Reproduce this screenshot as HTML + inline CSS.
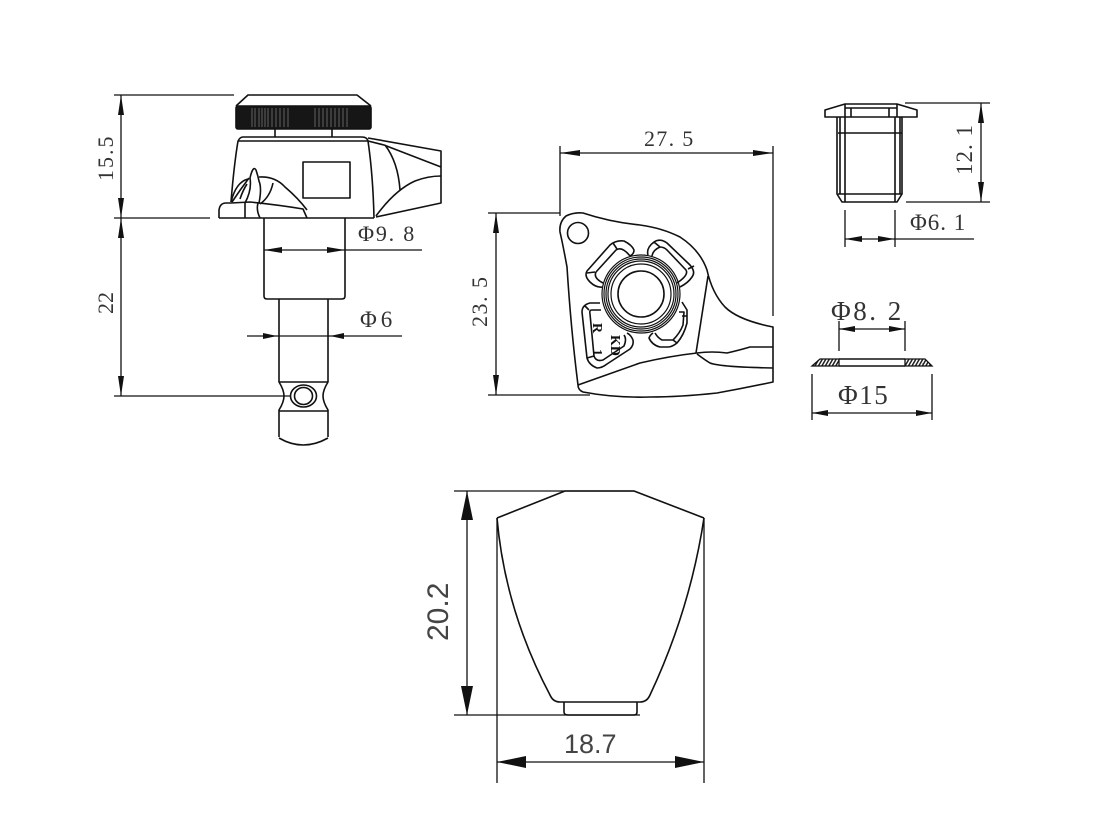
<!DOCTYPE html>
<html><head><meta charset="utf-8"><style>
html,body{margin:0;padding:0;background:#fff}
svg{display:block}
.s{fill:none;stroke:#111;stroke-width:1.6;stroke-linejoin:round}
.d{fill:none;stroke:#111;stroke-width:1.3}
.a{fill:#111;stroke:none}
text{font-family:"Liberation Serif",serif;font-size:22px;fill:#333}
</style></head><body>
<svg width="1106" height="840" viewBox="0 0 1106 840" xmlns="http://www.w3.org/2000/svg">
<defs>
<pattern id="h" width="3" height="3" patternUnits="userSpaceOnUse" patternTransform="rotate(30)">
<rect width="3" height="3" fill="#fff"/><rect width="1.500" height="3" fill="#222"/>
</pattern>
</defs>
<rect width="1106" height="840" fill="#fff"/>

<!-- LEFT VIEW -->
<g class="s">
<path d="M236 106L248 95H357L371 106"/>
<rect x="236" y="106" width="135" height="23" rx="2" fill="#161616" stroke="#111"/>
<path d="M252 108V127M255 108V127M259 108V127M262 108V127M265 108V127M268 108V127M272 108V127M276 108V127M280 108V127M284 108V127M288 108V127M315 108V127M319 108V127M323 108V127M327 108V127M331 108V127M335 108V127M339 108V127M343 108V127M347 108V127" stroke="#777" stroke-width="0.8"/>
<path d="M275 129V137M332 129V137"/>
<path d="M238 141Q240 137 243 137H362Q367 137 368 141"/>
<path d="M238 141H368"/>
<path d="M238 141Q234 165 231 202"/>
<path d="M368 141Q373 175 374 218"/>
<rect x="303" y="162" width="47" height="36"/>
<path d="M219 218V210Q220 203 226 203H231L250 202Q280 205 303 209L307 218"/>
<path d="M219 218H374"/>
<path d="M245 203V218M258 203Q256 210 260 218"/>
<path d="M231 202Q236 182 248 179M232 202Q240 190 249 178M240 199Q243 190 247 184"/>
<path d="M245 203Q252 190 250 178Q253 165 256 170Q258 176 259 181Q262 188 259 203"/>
<path d="M259 177Q275 176 285 187Q298 198 307 210M260 204Q270 197 273 183"/>
<path d="M368 138L441 151V203L376 217"/>
<path d="M368 141L384 145L441 167M385 145Q398 162 400 190"/>
<path d="M376 216Q395 190 415 181Q428 176 441 176"/>
<path d="M264 218V296Q264 299 267 299H342Q345 299 345 296V218"/>
<path d="M279 299V382Q284 390 284 396Q284 402 279 410V437M328 299V382Q323 390 323 396Q323 402 328 410V437"/>
<path d="M279 382H328M279 411H328"/>
<path d="M279 438Q303 452 328 438"/>
<ellipse cx="303.500" cy="396" rx="13" ry="11"/>
<ellipse cx="303.500" cy="396" rx="9" ry="8.500"/>
</g>
<g class="d">
<path d="M114 95H234M114 218H210M114 396H290"/>
<path d="M121 95V218M121 218V396"/>
<path d="M264 250H422"/>
<path d="M247 336H402"/>
</g>
<g class="a">
<path d="M121 95l-3 20h6zM121 218l-3-20h6zM121 218l-3 20h6zM121 396l-3-20h6z"/>
<path d="M264 250l18-3v6zM345 250l-18-3v6z"/>
<path d="M277 336l-14-3v6zM330 336l14-3v6z"/>
</g>
<text transform="translate(113,181) rotate(-90)" letter-spacing="2">15.5</text>
<text transform="translate(113,314) rotate(-90)">22</text>
<text x="358" y="241" letter-spacing="1.800">Φ9. 8</text>
<text x="360" y="327" style="font-size:23px" letter-spacing="4">Φ6</text>

<!-- MIDDLE VIEW -->
<g class="s">
<path d="M578 385Q571 330 567 267Q563 245 560 232Q559 222 566 216Q574 212 583 213Q610 222 640 225Q662 228 680 237Q700 250 707 270Q712 293 725 307Q738 320 773 327V382Q745 388 717 393Q680 397 650 397Q615 398 583 392Q578 390 578 385Z"/>
<circle cx="578" cy="233" r="10.500"/>
<g stroke-width="1.200">
<circle cx="641" cy="294" r="39"/><circle cx="641" cy="294" r="37"/><circle cx="641" cy="294" r="35"/><circle cx="641" cy="294" r="33"/><circle cx="641" cy="294" r="30"/>
</g>
<circle cx="641" cy="294" r="23"/>
<path d="M603 287Q596 288 590 282Q584 276 587 271L610 245Q616 240 624 241Q632 245 634 250Q634 254 630 256"/>
<path d="M596 272Q593 278 603 283M596 272L616 250Q622 246 630 256M613 243L617 249M587 273L595 272"/>
<path d="M648 255Q646 248 654 242Q660 238 667 243L690 265Q696 272 692 277Q688 283 680 287M652 256Q653 250 660 247Q664 247 667 250L686 270Q689 275 677 283M688 269L694 266M654 242L660 247"/>
<path d="M600 303H590Q582 305 582 312L587 358Q589 365 597 368Q602 368 607 364L630 349Q634 345 633 340Q631 335 627 333"/>
<path d="M601 310H592Q589 310 590 314L594 356Q596 362 603 360L624 346Q627 339 624 335M587 358L594 356M589 310L585 306"/>
<path d="M682 302L687 310V323Q684 335 677 343Q672 347 668 347H660Q652 345 649 338Q650 335 653 333"/>
<path d="M679 312H684L683 325Q680 333 673 340H662Q658 338 655 333M677 343L673 340M687 316L682 316"/>
<path d="M578 385L640 363Q670 356 697 353Q712 351 727 353Q740 350 750 347H773"/>
<path d="M697 354Q705 360 710 363Q720 367 773 368"/>
<path d="M696 353L708 276"/>
</g>
<g class="d">
<path d="M560 146V216M773 146V316"/>
<path d="M560 153H773"/>
<path d="M488 213H560M488 395H590"/>
<path d="M496 213V395"/>
</g>
<g class="a">
<path d="M560 153l20-3v6zM773 153l-20-3v6zM496 213l-3 20h6zM496 395l-3-20h6z"/>
</g>
<text x="644" y="146" letter-spacing="1.300">27. 5</text>
<text transform="translate(487,327) rotate(-90)" letter-spacing="1.500">23. 5</text>
<text transform="translate(593,323) rotate(90)" style="font-size:14px;font-weight:bold;fill:#111">R</text>
<text transform="translate(611,335) rotate(90)" style="font-size:14px;font-weight:bold;fill:#111">KD</text>
<text transform="translate(593,349) rotate(90)" style="font-size:14px;font-weight:bold;fill:#111">1</text>

<!-- TOP RIGHT -->
<g class="s">
<path d="M825 117V110L845 104H897L917 110V117Z"/>
<path d="M845 104V117M897 104V117M851 108V117M889 108V117M845 108H897"/>
<path d="M837 117V194L842 202H897L902 194V117"/>
<path d="M840 117V194M900 117V194"/>
<path d="M845 117V202M895 117V202"/>
<path d="M838 133H902M838 194H902"/>
</g>
<g class="d">
<path d="M905 103H990M906 202H990"/>
<path d="M981 103V202"/>
<path d="M845 210V247M895 210V247"/>
<path d="M845 239H974"/>
</g>
<g class="a">
<path d="M981 103l-3 20h6zM981 202l-3-20h6zM845 239l17-3v6zM895 239l-17-3v6z"/>
</g>
<text transform="translate(972,175) rotate(-90)" style="font-size:23px" letter-spacing="1">12. 1</text>
<text x="910" y="230" style="font-size:23px" letter-spacing="1">Φ6. 1</text>

<!-- WASHER -->
<path d="M812 366L820 359H839V366ZM905 359H925L932 366H905Z" fill="url(#h)" stroke="#111" stroke-width="1.300"/>
<path class="s" d="M839 359H905M839 366H905"/>
<g class="d">
<path d="M839 321V351M905 321V351"/>
<path d="M839 329H905"/>
<path d="M812 374V420M932 374V420"/>
<path d="M812 413H932"/>
</g>
<g class="a">
<path d="M839 329l16-3v6zM905 329l-16-3v6zM812 413l16-3v6zM932 413l-16-3v6z"/>
</g>
<text x="831" y="320" style="font-size:27px" letter-spacing="2.500">Φ8. 2</text>
<text x="838" y="404" style="font-size:27px" letter-spacing="1.500">Φ15</text>

<!-- BOTTOM -->
<g class="s">
<path d="M497 518L565 491H634L704 518"/>
<path d="M497 518Q505 610 550 695Q553 702 560 702H640Q647 702 650 695Q690 610 704 518"/>
<path d="M564 702V712Q564 715 568 715H634Q637 715 637 712V702"/>
</g>
<g class="d">
<path d="M454 491H634M454 715H640"/>
<path d="M467 491V715"/>
<path d="M497 518V783M704 518V783"/>
<path d="M497 762H704"/>
</g>
<g class="a">
<path d="M467 491l-6 29h12zM467 715l-6-29h12zM497 762l29-6v12zM704 762l-29-6v12z"/>
</g>
<text transform="translate(448,641) rotate(-90)" style="font-family:'Liberation Sans',sans-serif;font-size:30px;fill:#444">20.2</text>
<text x="564" y="753" style="font-family:'Liberation Sans',sans-serif;font-size:27px;fill:#444">18.7</text>
</svg>
</body></html>
